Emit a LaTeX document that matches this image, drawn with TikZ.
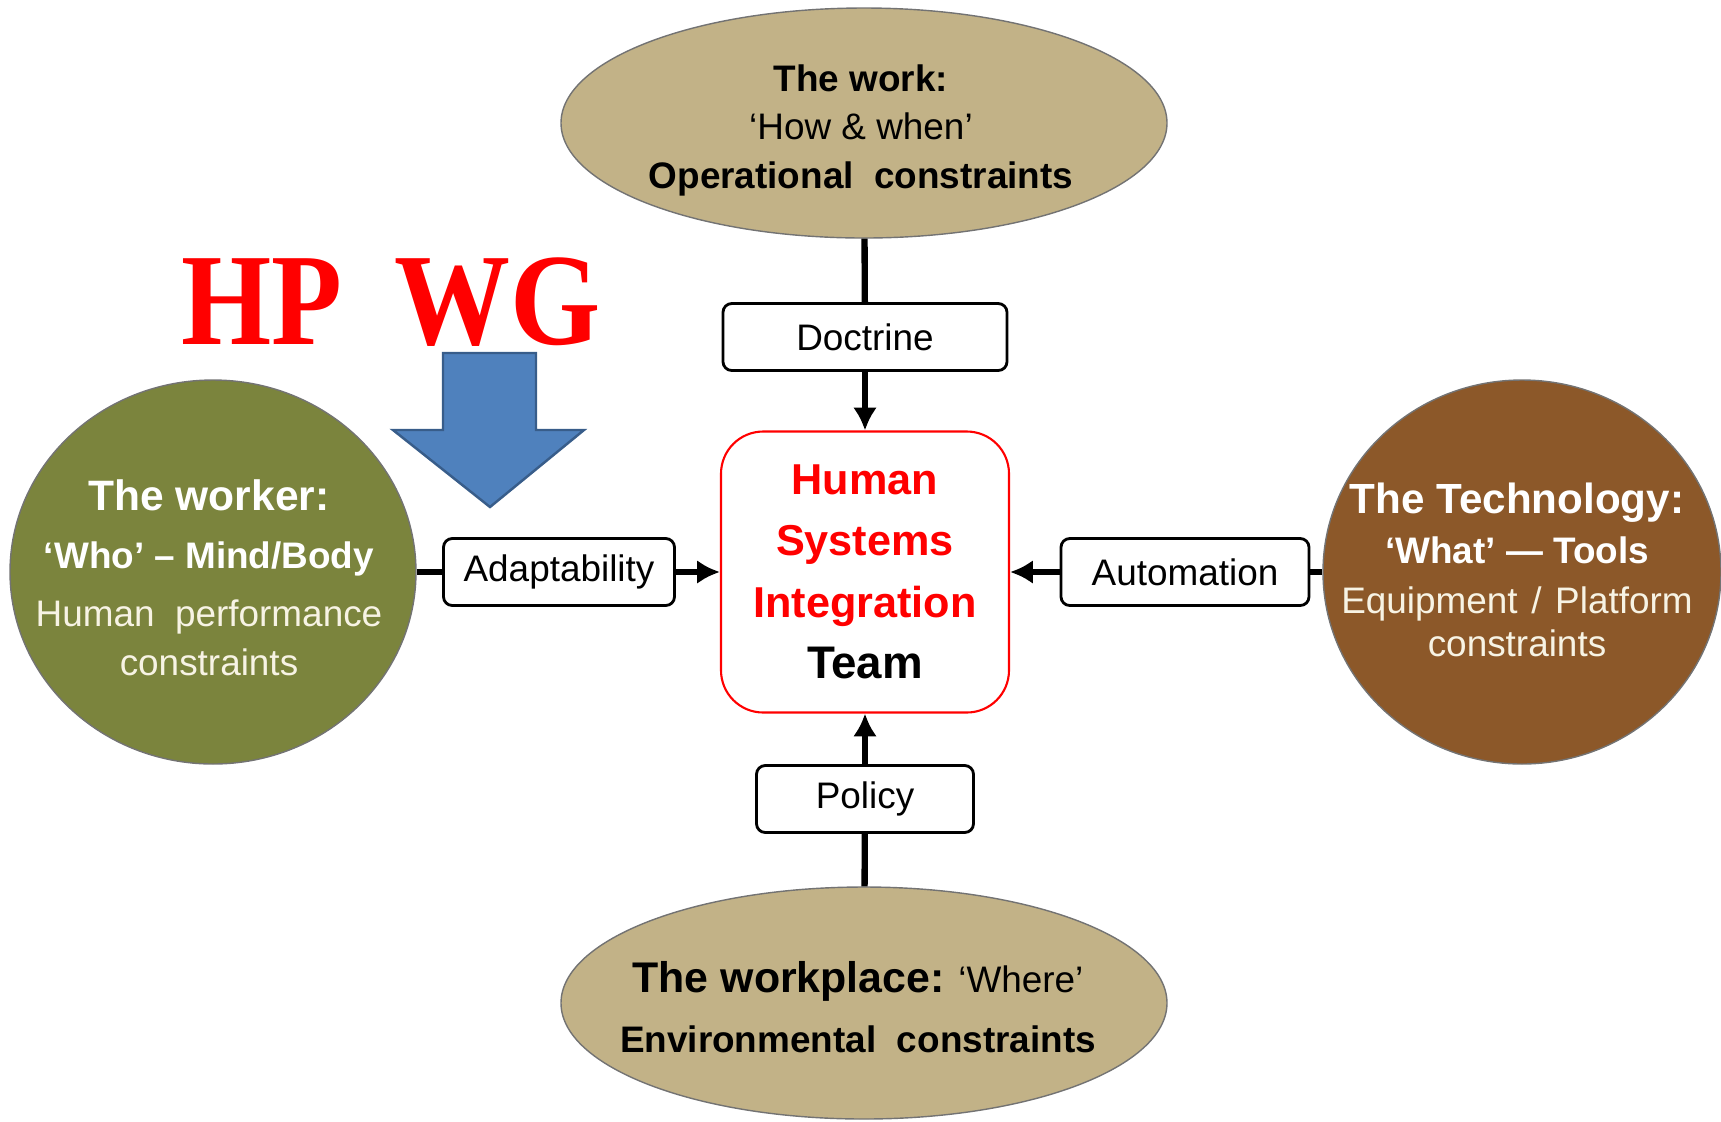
\documentclass[tikz,border=0pt]{standalone}
\usepackage{fontspec}
\setmainfont{Liberation Sans}
\newfontfamily\hpfont{Liberation Serif}
\usepackage{graphicx}
\usepackage{xcolor}
\usepackage{tikz}
\usetikzlibrary{shapes.geometric,arrows.meta,positioning}

\definecolor{worktan}{RGB}{194,178,135}
\definecolor{workerolive}{RGB}{123,132,61}
\definecolor{techbrown}{RGB}{140,88,41}
\definecolor{arrowblue}{RGB}{79,129,189}
\definecolor{arrowedge}{RGB}{56,93,138}
\definecolor{creamtext}{RGB}{247,243,228}

\tikzset{
	blob/.style={ellipse,draw=black!55,line width=0.4pt,inner sep=0pt},
	blobtext/.style={align=center,inner sep=0pt},
	labelbox/.style={draw,rounded corners=2.5pt,line width=0.8pt,fill=white,inner sep=0pt,minimum height=6.7mm,font=\fontsize{10.5}{12}\selectfont},
	hsibox/.style={draw=red,rounded corners=12pt,line width=0.6pt,minimum width=28.8mm,minimum height=28.1mm,align=center},
	link/.style={line width=1.8pt},
	linkarrow/.style={line width=1.8pt,-{Latex[length=6.5pt,width=6.8pt]}}
}

\begin{document}
\begin{tikzpicture}[x=0.1mm,y=-0.1mm]
	\useasboundingbox (0,0) rectangle (1721,1121);
	% the four sides
	\node[blob,fill=worktan,minimum width=60.6mm,minimum height=23mm] (work) at (864,123) {};
	\node[blob,fill=worktan,minimum width=60.6mm,minimum height=23.2mm] (workplace) at (864,1003) {};
	\node[blob,fill=workerolive,minimum width=40.6mm,minimum height=38.4mm] (worker) at (213,572) {};
	\node[blob,fill=techbrown,minimum width=39.8mm,minimum height=38.4mm] (tech) at (1522,572) {};
	\node[blobtext,font=\fontsize{10.5}{13.8}\selectfont] (worktxt) at (861,130) {\textbf{The work:}\\‘How \& when’\\\textbf{Operational\ \ constraints}};
	\node[blobtext,font=\fontsize{10.5}{17}\selectfont] (workplacetxt) at (858,1007) {{\fontsize{12.2}{17}\selectfont\bfseries The workplace:} ‘Where’\\\textbf{Environmental\ \ constraints}};
	\node[blobtext,text=white,font=\fontsize{10.5}{16.5}\selectfont] (workertxt) at (209,578) {{\fontsize{12.1}{16}\selectfont\bfseries The worker:}\\\textbf{‘Who’ – Mind/Body}\\\textcolor{creamtext}{Human\ \ performance}\\[-2.5pt]\textcolor{creamtext}{constraints}};
	\node[blobtext,text=white,font=\fontsize{10.5}{14.2}\selectfont] (techtxt) at (1517,570) {{\fontsize{12}{14}\selectfont\bfseries The Technology:}\\\textbf{‘What’ — Tools}\\\textcolor{creamtext}{Equipment\hspace{0.37em}/\hspace{0.37em}Platform}\\[-2pt]\textcolor{creamtext}{constraints}};
	% centre and labels
	\node[hsibox,font=\fontsize{12.3}{17.5}\selectfont\bfseries] (hsi) at (865,572) {\textcolor{red}{Human}\\\textcolor{red}{Systems}\\\textcolor{red}{Integration}\\{\fontsize{13}{17.5}\selectfont Team}};
	\node[labelbox,minimum width=28.4mm] (doctrine) at (865,337) {Doctrine};
	\node[labelbox,minimum width=21.7mm] (policy) at (865,799) {Policy};
	\node[labelbox,minimum width=23.1mm] (adapt) at (559,572) {Adaptability};
	\node[labelbox,minimum width=24.8mm] (auto) at (1185,572) {Automation};
	\draw[link] (work) -- (doctrine);
	\draw[linkarrow] (doctrine) -- (hsi);
	\draw[link] (workplace) -- (policy);
	\draw[linkarrow] (policy) -- (hsi);
	\draw[link] (worker) -- (adapt);
	\draw[linkarrow] (adapt) -- (hsi);
	\draw[link] (tech) -- (auto);
	\draw[linkarrow] (auto) -- (hsi);
	% HP WG
	\node[anchor=base west,inner sep=0pt,text=red,font=\hpfont\fontsize{33}{35}\selectfont\bfseries] (hpwg) at (181,344) {\scalebox{1}[1.13]{HP\hspace{0.45em}WG}};
	\draw[fill=arrowblue,draw=arrowedge,line width=0.7pt] (443,353) -- (536,353) -- (536,430) -- (584,430) -- (490,507) -- (393,430) -- (443,430) -- cycle;
\end{tikzpicture}
\end{document}
